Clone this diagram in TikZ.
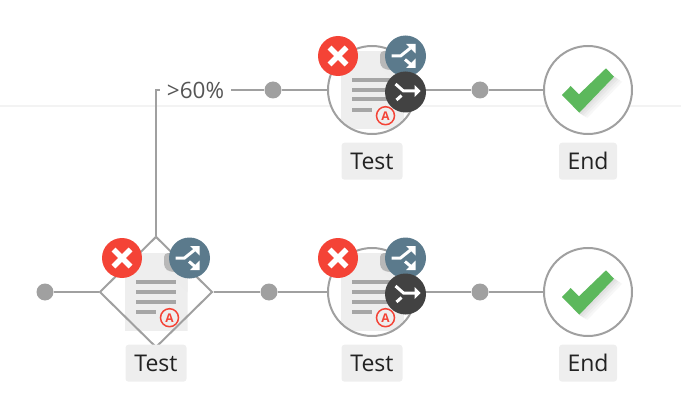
\documentclass[tikz,border=0pt]{standalone}
\usepackage{fontspec}
\setmainfont{Open Sans}
\usepackage{tikz}
\usetikzlibrary{shapes,arrows,positioning}
\definecolor{wire}{RGB}{160, 160, 160}
\definecolor{sheet}{RGB}{238, 238, 238}
\definecolor{rule}{RGB}{243, 243, 243}
\definecolor{alert}{RGB}{244, 67, 54}
\definecolor{slate}{RGB}{91, 122, 140}
\definecolor{coal}{RGB}{66, 66, 66}
\definecolor{tick}{RGB}{92, 184, 92}
\definecolor{ink}{RGB}{34, 34, 34}
\definecolor{softink}{RGB}{85, 85, 85}
% document sheet, drawn around the centre of the node that asks for it
\newcommand{\docsheet}{
\begin{scope}[shift={(path picture bounding box.center)}]
\fill[sheet] (-31.5,-39) rectangle (31.5,39);
\fill[black!7] (10,-22) -- (31.5,0) -- (31.5,-22) -- cycle;
\fill[black!28, rounded corners=4pt] (8,-39) -- (8,-24) -- (14,-20) -- (31.5,-20) -- (31.5,-39) -- cycle;
\fill[black!35] (-20,-12) rectangle (19.5,-8);
\fill[black!35] (-20,-2) rectangle (19.5,2);
\fill[black!35] (-20,7.5) rectangle (19.5,11.5);
\fill[black!35] (-20,18) rectangle (-0.5,22);
\end{scope}
}
\newcommand{\crossmark}{
\begin{scope}[shift={(path picture bounding box.center)}]
\draw[white, line width=5.5pt] (-8.5,-8.5) -- (8.5,8.5);
\draw[white, line width=5.5pt] (-8.5,8.5) -- (8.5,-8.5);
\end{scope}
}
\newcommand{\splitmark}{
\begin{scope}[shift={(path picture bounding box.center)}]
\draw[white, line width=3pt] (-14,0) -- (-5,0) -- (5,-8);
\draw[white, line width=3pt] (-0.5,3.5) -- (6,9);
\fill[white] (10,-12) -- (10,-2.5) -- (0.5,-12) -- cycle;
\fill[white] (10,12) -- (10,2.5) -- (0.5,12) -- cycle;
\end{scope}
}
\newcommand{\mergemark}{
\begin{scope}[shift={(path picture bounding box.center)}]
\draw[white, line width=3pt] (-10,-8) -- (-2,-1) -- (10,-1);
\draw[white, line width=3pt] (-9,8) -- (-4,3.5);
\fill[white] (15,-1) -- (9,-7) -- (9,5) -- cycle;
\end{scope}
}
\newcommand{\tickmark}{
\begin{scope}[shift={(path picture bounding box.center)}]
\foreach \d/\c in {8/3,6/6,4/9,2/12} {
\fill[black!\c] (26,-13.3) -- (26+\d,-13.3+0.65*\d) -- (-8.7+\d,22.7+0.65*\d) -- (-8.7,22.7) -- cycle;
}
\fill[tick] (18,-21.7) -- (26,-13.3) -- (-8.7,22.7) -- (-26,5) -- (-17.3,-4) -- (-9,4.3) -- cycle;
\end{scope}
}
\tikzstyle{task} = [circle, draw=wire, line width=2pt, fill=white, inner sep=0pt, minimum size = 88pt, path picture={\docsheet}]
\tikzstyle{finish} = [circle, draw=wire, line width=2pt, fill=white, inner sep=0pt, minimum size = 88pt, path picture={\tickmark}]
\tikzstyle{docbox} = [rectangle, inner sep=0pt, minimum width=63pt, minimum height=78pt, path picture={\docsheet}]
\tikzstyle{branch} = [diamond, draw=wire, line width=2pt, inner sep=0pt, minimum width=113pt, minimum height=111pt]
\tikzstyle{joint} = [circle, draw=none, fill=wire, inner sep=0pt, minimum size = 17pt]
\tikzstyle{badge} = [circle, draw=alert, line width=1.5pt, text=alert, inner sep=0pt, minimum size = 18pt, font=\fontsize{12}{12}\selectfont\bfseries]
\tikzstyle{remove} = [circle, fill=alert, inner sep=0pt, minimum size = 40pt, path picture={\crossmark}]
\tikzstyle{split} = [circle, fill=slate, inner sep=0pt, minimum size = 41pt, path picture={\splitmark}]
\tikzstyle{merge} = [circle, fill=coal, inner sep=0pt, minimum size = 41pt, path picture={\mergemark}]
\tikzstyle{caption} = [fill=sheet, rounded corners=3pt, text=ink, inner sep=0pt, minimum height=37pt, font=\fontsize{23}{26}\selectfont]
\tikzstyle{link}  = [draw=wire, line width=2.2pt]

\begin{document}
\begin{tikzpicture}[x=1pt, y=-1pt]
\useasboundingbox (0,0) rectangle (681,420);

% faint rule behind the top row
\coordinate (ruleleft) at (0,106);
\coordinate (ruleright) at (681,106);
\draw[rule, line width=1.5pt] (ruleleft) -- (ruleright);

% top row =============================
\node[task] (tasktop) at (372,90) {};
\node[finish] (endtop) at (588,90) {};
\node[joint] (jointa) at (273,90) {};
\node[joint] (jointb) at (480,90) {};
\node[text=softink, inner sep=7pt, font=\fontsize{22.5}{26}\selectfont] (gate) at (195.5,90) {>60\%};
\node[caption, minimum width=61pt, below=7.5pt of tasktop] (captiontop) {Test};
\node[caption, minimum width=58pt, below=7.5pt of endtop] (endcaptiontop) {End};

% bottom row =============================
\node[docbox] (docstep) at (156,292) {};
\node[branch] (step) at (156,292) {};
\node[task] (taskbot) at (372,292) {};
\node[finish] (endbot) at (588,292) {};
\node[joint] (jointc) at (45,292) {};
\node[joint] (jointd) at (269,292) {};
\node[joint] (jointe) at (480,292) {};
\node[caption, minimum width=61pt, below=-4pt of step] (captionstep) {Test};
\node[caption, minimum width=61pt, below=7.5pt of taskbot] (captionbot) {Test};
\node[caption, minimum width=58pt, below=7.5pt of endbot] (endcaptionbot) {End};

% edges
\path[link] (step.north) |- (gate.west);
\path[link] (gate.east) -- (jointa);
\path[link] (jointa) -- (tasktop);
\path[link] (tasktop) -- (jointb);
\path[link] (jointb) -- (endtop);
\path[link] (jointc) -- (step.west);
\path[link] (step.east) -- (jointd);
\path[link] (jointd) -- (taskbot);
\path[link] (taskbot) -- (jointe);
\path[link] (jointe) -- (endbot);

% badges and buttons
\node[badge, xshift=13.5pt, yshift=-25.7pt] (badgestep) at (step) {A};
\node[remove, xshift=-34pt, yshift=34pt] (removestep) at (step) {};
\node[split, xshift=33.5pt, yshift=34pt] (splitstep) at (step) {};

\node[badge, xshift=13.5pt, yshift=-25.7pt] (badgetop) at (tasktop) {A};
\node[remove, xshift=-34pt, yshift=34pt] (removetop) at (tasktop) {};
\node[split, xshift=33.5pt, yshift=34pt] (splittop) at (tasktop) {};
\node[merge, xshift=33.5pt, yshift=-2pt] (mergetop) at (tasktop) {};

\node[badge, xshift=13.5pt, yshift=-25.7pt] (badgebot) at (taskbot) {A};
\node[remove, xshift=-34pt, yshift=34pt] (removebot) at (taskbot) {};
\node[split, xshift=33.5pt, yshift=34pt] (splitbot) at (taskbot) {};
\node[merge, xshift=33.5pt, yshift=-2pt] (mergebot) at (taskbot) {};

\end{tikzpicture}
\end{document}
